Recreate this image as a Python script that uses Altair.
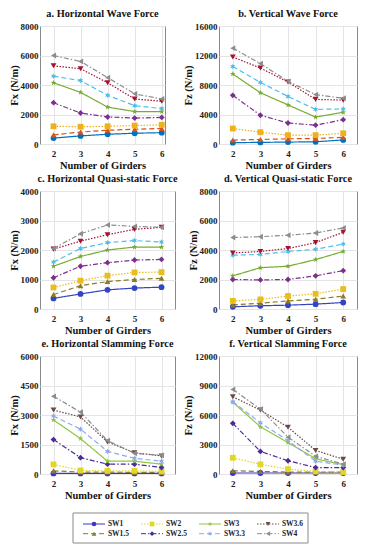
import math
import altair as alt
import pandas as pd

SERIF = "Liberation Serif"

GIRDERS = [2, 3, 4, 5, 6]
SERIES = ["SW1", "SW1.5", "SW2", "SW2.5", "SW3", "SW3.3", "SW3.6", "SW4"]

# a. Horizontal Wave Force (N/m)
HWF = {
    "SW1": [400, 550, 660, 730, 770],
    "SW1.5": [620, 810, 930, 1000, 1050],
    "SW2": [1200, 1170, 1200, 1250, 1300],
    "SW2.5": [2800, 2100, 1830, 1760, 1800],
    "SW3": [4150, 3500, 2500, 2200, 2200],
    "SW3.3": [4600, 4300, 3300, 2600, 2400],
    "SW3.6": [5300, 5100, 4150, 3050, 2900],
    "SW4": [6000, 5600, 4500, 3400, 3050],
}
# b. Vertical Wave Force
VWF = {
    "SW1": [180, 220, 260, 300, 550],
    "SW1.5": [530, 620, 700, 750, 900],
    "SW2": [2100, 1600, 1200, 1200, 1450],
    "SW2.5": [6600, 3900, 2850, 2550, 3300],
    "SW3": [9500, 6950, 5300, 3650, 4300],
    "SW3.3": [10500, 8350, 6450, 4700, 4750],
    "SW3.6": [11800, 10300, 8400, 6050, 5950],
    "SW4": [13000, 10900, 8500, 6700, 6200],
}
# c. Horizontal Quasi-static Force
HQS = {
    "SW1": [360, 510, 650, 710, 740],
    "SW1.5": [490, 790, 930, 1000, 1040],
    "SW2": [730, 960, 1130, 1240, 1250],
    "SW2.5": [1060, 1450, 1570, 1660, 1680],
    "SW3": [1450, 1780, 2000, 2100, 2100],
    "SW3.3": [1590, 2050, 2250, 2320, 2270],
    "SW3.6": [2030, 2300, 2520, 2700, 2770],
    "SW4": [2050, 2550, 2850, 2800, 2770],
}
# d. Vertical Quasi-static Force
VQS = {
    "SW1": [150, 220, 260, 330, 440],
    "SW1.5": [280, 390, 550, 660, 880],
    "SW2": [550, 650, 880, 1030, 1350],
    "SW2.5": [2000, 1970, 2000, 2250, 2600],
    "SW3": [2250, 2800, 2900, 3350, 3900],
    "SW3.3": [3650, 3700, 3900, 4050, 4400],
    "SW3.6": [3800, 3900, 4100, 4500, 5200],
    "SW4": [4850, 4900, 5000, 5150, 5500],
}
# e. Horizontal Slamming Force
HSF = {
    "SW1": [30, 30, 30, 30, 30],
    "SW1.5": [160, 100, 100, 80, 80],
    "SW2": [490, 180, 160, 160, 130],
    "SW2.5": [1750, 830, 500, 500, 330],
    "SW3": [2750, 1800, 650, 650, 500],
    "SW3.3": [2950, 2280, 1150, 800, 650],
    "SW3.6": [3250, 2900, 1630, 1080, 920],
    "SW4": [3950, 3150, 1700, 1050, 950],
}
# f. Vertical Slamming Force
VSF = {
    "SW1": [100, 100, 100, 100, 100],
    "SW1.5": [330, 260, 200, 200, 200],
    "SW2": [1650, 980, 490, 260, 200],
    "SW2.5": [5150, 2300, 1350, 650, 650],
    "SW3": [7300, 4800, 3200, 1550, 950],
    "SW3.3": [7350, 5200, 3400, 1300, 900],
    "SW3.6": [7850, 6500, 4750, 2400, 1500],
    "SW4": [8600, 6600, 3750, 1800, 1000],
}

# ---- styles ----
PAL_AB = ["#0072BD", "#D95319", "#EDB120", "#7E2F8E", "#77AC30", "#4DBEEE", "#A2142F", "#8C8C8C"]
PAL_CD = ["#3344C4", "#8B7A2A", "#E8BE1E", "#7E2F8E", "#77AC30", "#4DBEEE", "#A2142F", "#8C8C8C"]
PAL_EF = ["#3F35BF", "#857A2E", "#E2D62A", "#4E2A96", "#8DC63F", "#8FA9EE", "#6A4B45", "#8C8C8C"]


def star(n, r_in):
    pts = []
    for k in range(2 * n):
        ang = -math.pi / 2 + k * math.pi / n
        r = 1.0 if k % 2 == 0 else r_in
        pts.append(f"{r * math.cos(ang):.3f},{r * math.sin(ang):.3f}")
    return "M" + " L".join(pts) + " Z"


SHAPES = ["circle", "triangle-up", "square", "diamond", star(5, 0.42), star(6, 0.5),
          "triangle-down", "triangle-left"]
DASHES = [[1, 0], [5, 3], [1.5, 1.5], [5, 2, 1.5, 2], [1, 0], [5, 3], [1.5, 1.5], [5, 2, 1.5, 2]]

LW, RW, PH = 135, 138, 118


def to_long(d):
    rows = []
    for s in SERIES:
        for g, v in zip(GIRDERS, d[s]):
            rows.append({"g": g, "v": v, "s": s})
    return pd.DataFrame(rows)


def panel(data, title, ytitle, ymax, ystep, xmax, width, palette):
    df = to_long(data)
    base = alt.Chart(df).encode(
        x=alt.X("g:Q", scale=alt.Scale(domain=[1.5, xmax], nice=False, zero=False),
                axis=alt.Axis(values=GIRDERS, title="Number of Girders", format="d")),
        y=alt.Y("v:Q", scale=alt.Scale(domain=[0, ymax], nice=False),
                axis=alt.Axis(values=list(range(0, ymax + 1, ystep)), title=ytitle, format="d")),
        color=alt.Color("s:N", scale=alt.Scale(domain=SERIES, range=palette), legend=None),
    )
    lines = base.mark_line(strokeWidth=1.2).encode(
        strokeDash=alt.StrokeDash("s:N", scale=alt.Scale(domain=SERIES, range=DASHES), legend=None))
    pts = base.mark_point(filled=True, size=34, opacity=1).encode(
        shape=alt.Shape("s:N", scale=alt.Scale(domain=SERIES, range=SHAPES), legend=None))
    return alt.layer(lines, pts).properties(width=width, height=PH, title=title)


A_XMAX = 6.12
pa = panel(HWF, "a. Horizontal Wave Force", "Fx (N/m)", 8000, 2000, A_XMAX,
           round(LW * (A_XMAX - 1.5) / 5), PAL_AB)
pb = panel(VWF, "b. Vertical Wave Force", "Fz (N/m)", 16000, 4000, 6.5, RW, PAL_AB)
pc = panel(HQS, "c. Horizontal Quasi-static Force", "Fx (N/m)", 4000, 1000, 6.5, LW, PAL_CD)
pd_ = panel(VQS, "d. Vertical Quasi-static Force", "Fz (N/m)", 8000, 2000, 6.5, RW, PAL_CD)
pe = panel(HSF, "e. Horizontal Slamming Force", "Fx (N/m)", 6000, 1500, 6.5, LW, PAL_EF)
pf = panel(VSF, "f. Vertical Slamming Force", "Fz (N/m)", 12000, 3000, 6.5, RW, PAL_EF)

# ---- custom legend (line + marker + label), laid out from the series list ----
leg_rows = []
for i, s in enumerate(SERIES):
    c, r = i // 2, i % 2
    leg_rows.append({"s": s, "row": r, "x0": c, "x1": c + 0.38, "xm": c + 0.19, "xt": c + 0.43})
leg_df = pd.DataFrame(leg_rows)
LEG_VIEW_H = 22
BOX_L, BOX_R, BOX_T, BOX_B = 33, 268, -8, 22
px_per_col = 58.0
x_d0 = -(BOX_L + 10) / px_per_col
x_dom = [x_d0, x_d0 + LW / px_per_col]
px_per_row = 9.7
y_d0 = -3 / px_per_row
y_dom = [y_d0, y_d0 + LEG_VIEW_H / px_per_row]

lx = alt.Scale(domain=x_dom, nice=False, zero=False)
ly = alt.Scale(domain=y_dom, nice=False, zero=False, reverse=True)
lcol = alt.Color("s:N", scale=alt.Scale(domain=SERIES, range=PAL_EF), legend=None)

frame = alt.Chart(pd.DataFrame({"k": [0]})).mark_rect(
    fill="white", stroke="#8a8a8a", strokeWidth=1).encode(
    x=alt.value(BOX_L), x2=alt.value(BOX_R), y=alt.value(BOX_T), y2=alt.value(BOX_B))
lbase = alt.Chart(leg_df)
lrule = lbase.mark_rule(strokeWidth=1).encode(
    x=alt.X("x0:Q", scale=lx, axis=None), x2="x1:Q",
    y=alt.Y("row:Q", scale=ly, axis=None), color=lcol,
    strokeDash=alt.StrokeDash("s:N", scale=alt.Scale(domain=SERIES, range=DASHES), legend=None))
lpts = lbase.mark_point(filled=True, size=22, opacity=1).encode(
    x=alt.X("xm:Q", scale=lx, axis=None), y=alt.Y("row:Q", scale=ly, axis=None), color=lcol,
    shape=alt.Shape("s:N", scale=alt.Scale(domain=SERIES, range=SHAPES), legend=None))
ltxt = lbase.mark_text(align="left", baseline="middle", font=SERIF, fontSize=7.5,
                       fontWeight="bold", color="#222").encode(
    x=alt.X("xt:Q", scale=lx, axis=None), y=alt.Y("row:Q", scale=ly, axis=None), text="s:N")
legend = alt.layer(frame, lrule, lpts, ltxt).properties(
    width=LW, height=LEG_VIEW_H, view=alt.ViewBackground(stroke="transparent"))

chart = alt.concat(pa, pb, pc, pd_, pe, pf, legend, columns=2,
                   spacing={"row": 47, "column": 44}, bounds="flush").resolve_scale(
    x="independent", y="independent", color="independent", shape="independent",
    strokeDash="independent").properties(padding=0, background="white").configure_view(
    stroke="#8a8a8a", strokeWidth=1).configure_axis(
    grid=True, gridColor="#e4e4e4", gridWidth=1, domain=False, ticks=False,
    labelFont=SERIF, labelFontWeight="bold", labelFontSize=9, labelColor="#222",
    labelPadding=2, titleFont=SERIF, titleFontWeight="bold", titleFontSize=10.5,
    titleColor="#111", titlePadding=1).configure_axisX(labelPadding=5, titlePadding=2).configure_title(
    font=SERIF, fontSize=10.3, fontWeight="bold", offset=3, color="#111")

chart.save("out.html", embed_options={"renderer": "svg", "actions": False})
